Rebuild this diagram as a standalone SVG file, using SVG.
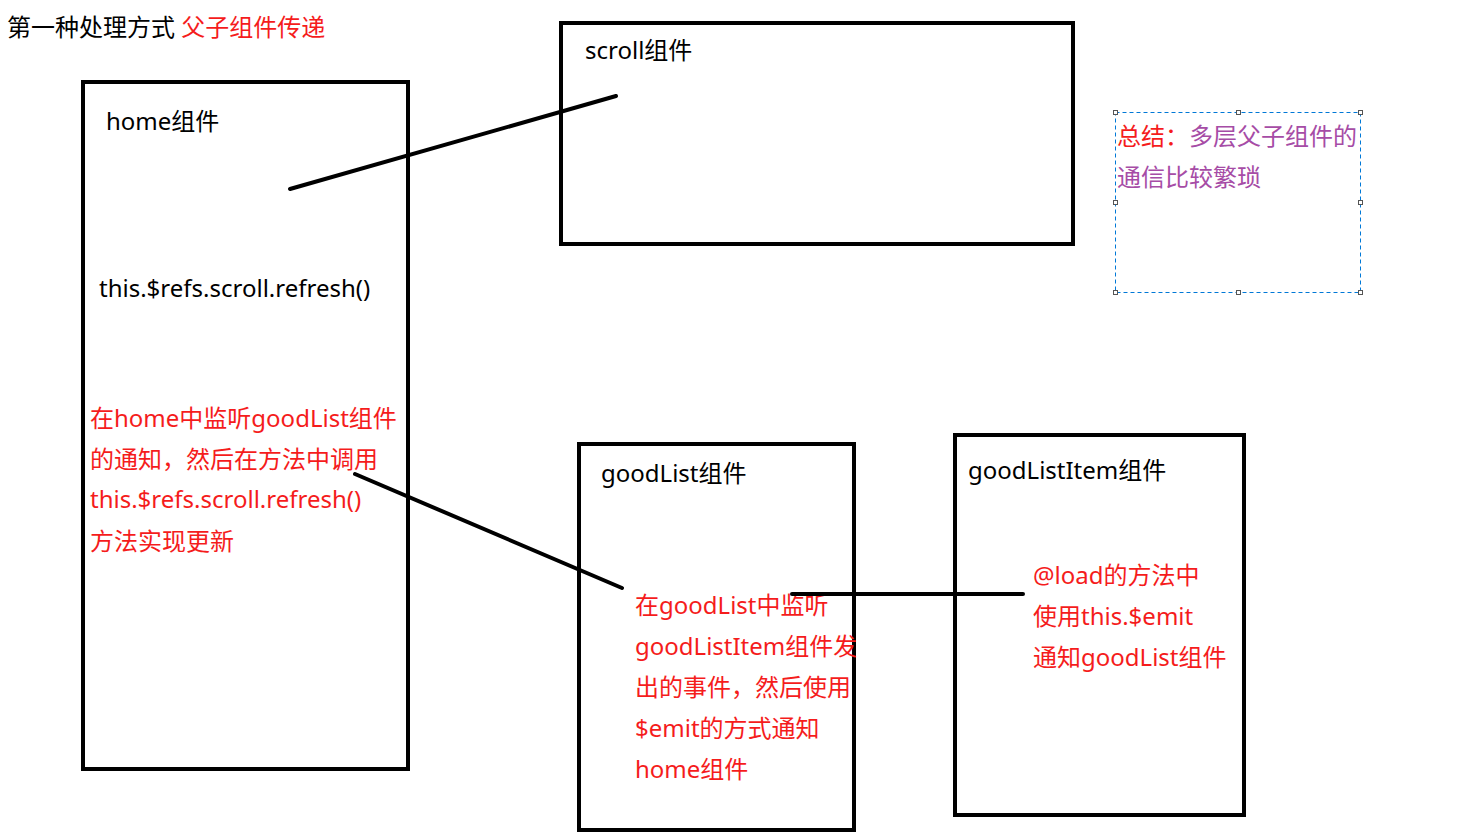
<svg xmlns="http://www.w3.org/2000/svg" width="1458" height="838" viewBox="0 0 1458 838">
<style>
text{font-family:"Noto Sans","Noto Sans CJK SC",sans-serif;font-size:24px}
.k{fill:#000}
.r{fill:#f51c1c}
.p{fill:#a64ca6}
.box{fill:none;stroke:#000;stroke-width:4}
.ln{stroke:#000;stroke-width:4;stroke-linecap:round}
.h{fill:#fff;stroke:#555;stroke-width:1}
</style>
<rect width="1458" height="838" fill="#fff"/>
<g id="title">
<text x="7" y="36" class="k">第一种处理方式 <tspan class="r">父子组件传递</tspan></text>
</g>
<g id="home">
<rect class="box" x="83" y="82" width="325" height="687"/>
<text x="106" y="130" class="k">home组件</text>
<text x="99" y="297" class="k">this.$refs.scroll.refresh()</text>
<text x="90" y="427" class="r">在home中监听goodList组件</text>
<text x="90" y="468" class="r">的通知，然后在方法中调用</text>
<text x="90" y="508" class="r">this.$refs.scroll.refresh()</text>
<text x="90" y="550" class="r">方法实现更新</text>
</g>
<g id="scroll">
<rect class="box" x="561" y="23" width="512" height="221"/>
<text x="585" y="59" class="k">scroll组件</text>
</g>
<g id="goodList">
<rect class="box" x="579" y="444" width="275" height="386"/>
<text x="601" y="482" class="k">goodList组件</text>
<text x="635" y="614" class="r">在goodList中监听</text>
<text x="635" y="655" class="r">goodListItem组件发</text>
<text x="635" y="696" class="r">出的事件，然后使用</text>
<text x="635" y="737" class="r">$emit的方式通知</text>
<text x="635" y="778" class="r">home组件</text>
</g>
<g id="goodListItem">
<rect class="box" x="955" y="435" width="289" height="380"/>
<text x="968" y="479" class="k">goodListItem组件</text>
<text x="1033" y="584" class="r">@load的方法中</text>
<text x="1033" y="625" class="r">使用this.$emit</text>
<text x="1033" y="666" class="r">通知goodList组件</text>
</g>
<g id="summary">
<rect x="1115.5" y="112.5" width="245" height="180" fill="none" stroke="#0078d7" stroke-width="1" stroke-dasharray="4,3"/>
<rect class="h" x="1113.5" y="110.5" width="4" height="4"/>
<rect class="h" x="1236.5" y="110.5" width="4" height="4"/>
<rect class="h" x="1358.5" y="110.5" width="4" height="4"/>
<rect class="h" x="1113.5" y="200.5" width="4" height="4"/>
<rect class="h" x="1358.5" y="200.5" width="4" height="4"/>
<rect class="h" x="1113.5" y="290.5" width="4" height="4"/>
<rect class="h" x="1236.5" y="290.5" width="4" height="4"/>
<rect class="h" x="1358.5" y="290.5" width="4" height="4"/>
<text x="1117" y="145" class="p"><tspan class="r">总结：</tspan>多层父子组件的</text>
<text x="1117" y="186" class="p">通信比较繁琐</text>
</g>
<g id="connectors">
<line class="ln" x1="290" y1="189" x2="616" y2="96"/>
<line class="ln" x1="355" y1="474" x2="622" y2="588"/>
<line class="ln" x1="792" y1="594" x2="1023" y2="594"/>
</g>
</svg>
